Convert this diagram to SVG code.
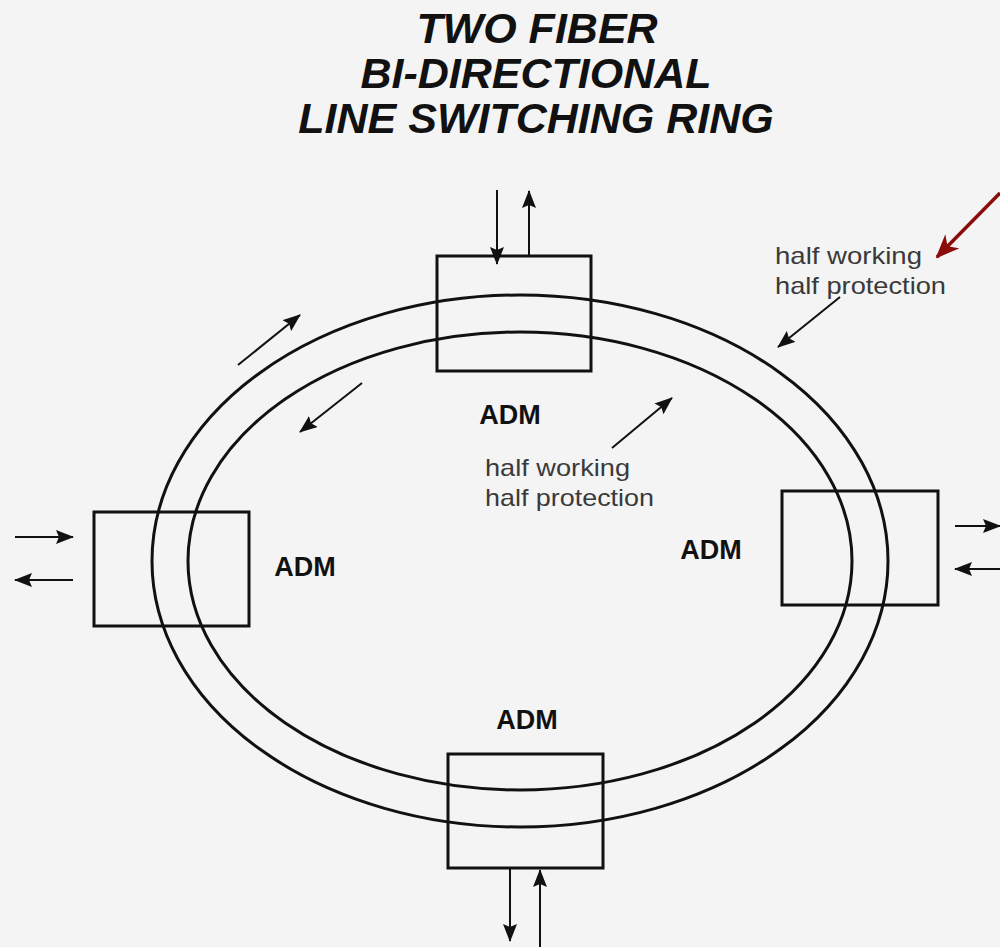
<svg xmlns="http://www.w3.org/2000/svg" width="1000" height="947" viewBox="0 0 1000 947">
<defs>
<marker id="ah" viewBox="0 0 18 14" refX="17" refY="7" markerWidth="18" markerHeight="14" markerUnits="userSpaceOnUse" orient="auto">
<path d="M0,0 L18,7 L0,14 L3,7 z" fill="#111"/>
</marker>
<marker id="ahr" viewBox="0 0 24 20" refX="22" refY="10" markerWidth="24" markerHeight="20" markerUnits="userSpaceOnUse" orient="auto">
<path d="M0,0 L24,10 L0,20 L7,10 z" fill="#8b0a0a"/>
</marker>
<style>
.ring{fill:none;stroke:#111;stroke-width:3}
.box{fill:none;stroke:#111;stroke-width:3}
.io{stroke:#111;stroke-width:2;fill:none;marker-end:url(#ah)}
.title{font-family:"Liberation Sans",Arial,sans-serif;font-weight:bold;font-style:italic;font-size:43px;fill:#111;text-anchor:middle}
.adm{font-family:"Liberation Sans",Arial,sans-serif;font-weight:bold;font-size:27px;fill:#111;text-anchor:middle}
.lbl{font-family:"Liberation Sans",Arial,sans-serif;font-size:24px;fill:#3a3a3a}
</style>
</defs>
<rect width="1000" height="947" fill="#f4f4f4"/>
<g id="title">
<text class="title" x="537" y="43">TWO FIBER</text>
<text class="title" x="536" y="88">BI-DIRECTIONAL</text>
<text class="title" x="536" y="133">LINE SWITCHING RING</text>
</g>
<g id="ring">
<ellipse class="ring" cx="520" cy="561" rx="368" ry="266"/>
<ellipse class="ring" cx="520" cy="561" rx="332" ry="229"/>
</g>
<g id="adm-top">
<rect class="box" x="437" y="256" width="154" height="115"/>
<text class="adm" x="510" y="424">ADM</text>
</g>
<g id="adm-left">
<rect class="box" x="94" y="512" width="155" height="114"/>
<text class="adm" x="305" y="576">ADM</text>
</g>
<g id="adm-right">
<rect class="box" x="782" y="491" width="156" height="114"/>
<text class="adm" x="711" y="559">ADM</text>
</g>
<g id="adm-bottom">
<rect class="box" x="448" y="754" width="155" height="114"/>
<text class="adm" x="527" y="729">ADM</text>
</g>
<g id="label-outer">
<text class="lbl" x="775" y="264" textLength="147" lengthAdjust="spacingAndGlyphs">half working</text>
<text class="lbl" x="775" y="294" textLength="171" lengthAdjust="spacingAndGlyphs">half protection</text>
</g>
<g id="label-inner">
<text class="lbl" x="485" y="476" textLength="145" lengthAdjust="spacingAndGlyphs">half working</text>
<text class="lbl" x="485" y="506" textLength="169" lengthAdjust="spacingAndGlyphs">half protection</text>
</g>
<g id="connectors">
<line class="io" x1="497" y1="190" x2="497" y2="264"/>
<line class="io" x1="529" y1="256" x2="529" y2="191"/>
<line class="io" x1="15" y1="537" x2="73" y2="537"/>
<line class="io" x1="73" y1="580" x2="15" y2="580"/>
<line class="io" x1="955" y1="526" x2="1000" y2="526"/>
<line class="io" x1="1000" y1="569" x2="955" y2="569"/>
<line class="io" x1="510" y1="868" x2="510" y2="941"/>
<line class="io" x1="540" y1="947" x2="540" y2="870"/>
<line class="io" x1="238" y1="365" x2="300" y2="315"/>
<line class="io" x1="362" y1="383" x2="300" y2="432"/>
<line class="io" x1="612" y1="448" x2="672" y2="398"/>
<line class="io" x1="840" y1="297" x2="778" y2="347"/>
<line x1="1000" y1="193" x2="937" y2="257" stroke="#8b0a0a" stroke-width="3.5" marker-end="url(#ahr)"/>
</g>
</svg>
